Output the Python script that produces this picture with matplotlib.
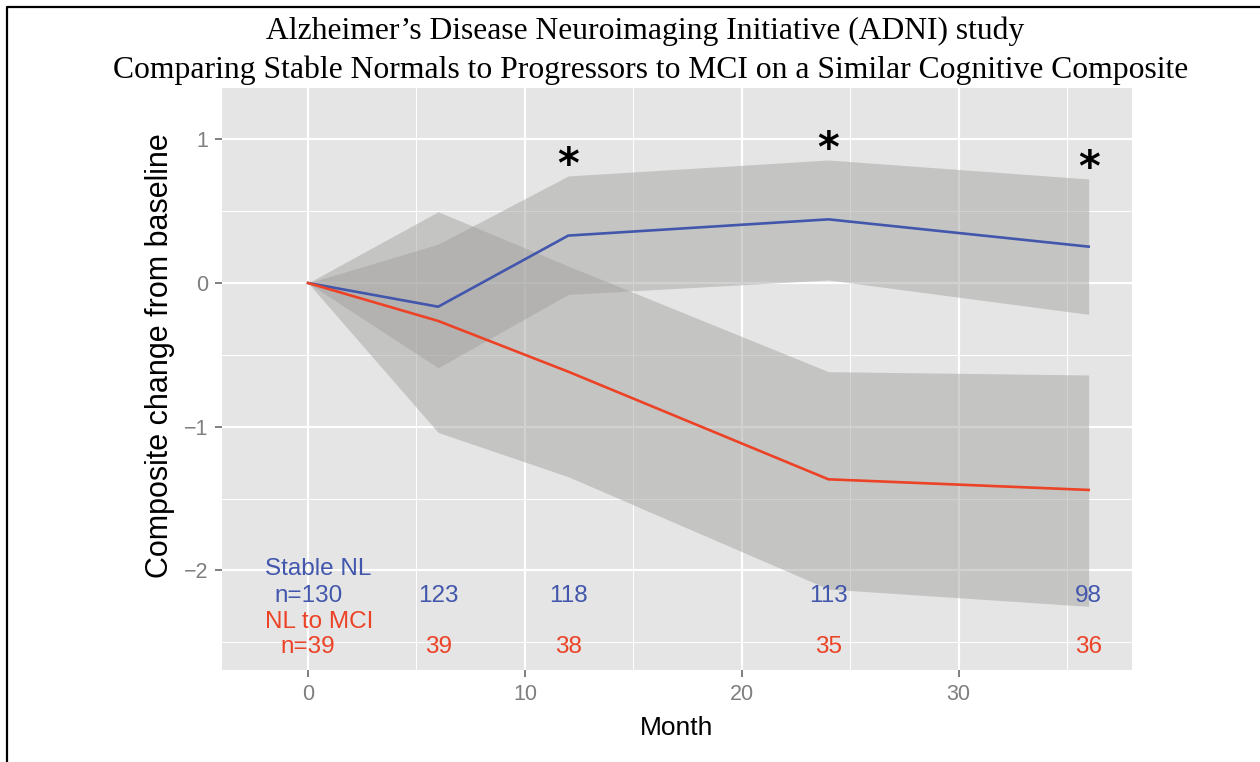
import matplotlib
matplotlib.use("Agg")
import matplotlib.pyplot as plt
from matplotlib.lines import Line2D
import numpy as np

# ---- data ----
months = [0, 6, 12, 24, 36]
stable_mean = [0.0, -0.165, 0.33, 0.443, 0.253]
stable_upper = [0.0, 0.27, 0.745, 0.856, 0.724]
stable_lower = [0.0, -0.59, -0.079, 0.021, -0.218]
prog_mean = [0.0, -0.264, -0.617, -1.366, -1.44]
prog_upper = [0.0, 0.496, 0.118, -0.617, -0.64]
prog_lower = [0.0, -1.04, -1.348, -2.13, -2.25]
n_stable = [130, 123, 118, 113, 98]
n_prog = [39, 39, 38, 35, 36]
signif_months = [12, 24, 36]
xticks = [0, 10, 20, 30]
yticks = [-2, -1, 0, 1]
title_lines = ["Alzheimer\u2019s Disease Neuroimaging Initiative (ADNI) study",
               "Comparing Stable Normals to Progressors to MCI on a Similar Cognitive Composite"]

BLUE = "#4257AC"
RED = "#EC4226"
PANEL = "#E5E5E5"
TICKGREY = "#7F7F7F"
NARROW = ["Liberation Sans", "DejaVu Sans"]
SANS = ["Liberation Sans", "DejaVu Sans"]

W, H = 1260, 762
fig = plt.figure(figsize=(W / 100, H / 100), dpi=100)
fig.patch.set_facecolor("white")

L, R, T, B = 222, 1132, 88, 670
ax = fig.add_axes([L / W, 1 - B / H, (R - L) / W, (B - T) / H])
ax.set_facecolor(PANEL)
ax.set_xlim(-3.97, 38.0)
ax.set_ylim(-2.693, 1.357)

# grid
ax.set_xticks(xticks)
ax.set_yticks(yticks)
ax.set_xticks([5, 15, 25, 35], minor=True)
ax.set_yticks([-2.5, -1.5, -0.5, 0.5], minor=True)
ax.grid(which="major", color="white", linewidth=1.6)
ax.grid(which="minor", color="white", linewidth=0.7)
ax.set_axisbelow(True)
for s in ax.spines.values():
    s.set_visible(False)
ax.tick_params(which="major", direction="out", length=5, width=1.4, color=TICKGREY,
               labelcolor=TICKGREY, labelsize=15.5, pad=5)
ax.tick_params(which="minor", length=0)
ax.set_xticklabels([str(v) for v in xticks], fontfamily=NARROW)
ax.set_yticklabels([str(v).replace("-", "\u2212") for v in yticks], fontfamily=NARROW)

# ribbons
ax.fill_between(months, stable_lower, stable_upper, color="#A1A09F", alpha=0.48, linewidth=0)
ax.fill_between(months, prog_lower, prog_upper, color="#A1A09F", alpha=0.48, linewidth=0)

# lines
ax.plot(months, stable_mean, color=BLUE, linewidth=1.9)
ax.plot(months, prog_mean, color=RED, linewidth=1.9)

# significance asterisks above the stable ribbon
for m in signif_months:
    up = stable_upper[months.index(m)]
    ax.text(m, up + 0.07, "*", ha="center", va="center", fontsize=30,
            fontweight="bold", color="black", fontfamily=["DejaVu Sans"])

# counts
CS = 17.5
ax.text(-2.0, -2.03, "Stable NL", color=BLUE, fontsize=CS, ha="left", va="baseline",
        fontfamily=NARROW)
ax.text(-2.0, -2.40, "NL to MCI", color=RED, fontsize=CS, ha="left", va="baseline",
        fontfamily=NARROW)
for i, m in enumerate(months):
    s1 = ("n=%d" % n_stable[i]) if i == 0 else str(n_stable[i])
    s2 = ("n=%d" % n_prog[i]) if i == 0 else str(n_prog[i])
    ax.text(m, -2.22, s1, color=BLUE, fontsize=CS, ha="center", va="baseline",
            fontfamily=NARROW)
    ax.text(m, -2.575, s2, color=RED, fontsize=CS, ha="center", va="baseline",
            fontfamily=NARROW)

ax.set_xlabel("Month", fontsize=19, color="black", fontfamily=SANS, labelpad=8)
ax.set_ylabel("Composite change from baseline", fontsize=22, color="black",
              fontfamily=SANS)
ax.yaxis.set_label_coords(-0.052, 0.54)

# title
fig.text(645 / W, 1 - 31 / H, title_lines[0], ha="center", va="center",
         fontsize=22.8, fontfamily=["Liberation Serif", "DejaVu Serif"])
fig.text(651 / W, 1 - 70 / H, title_lines[1], ha="center", va="center",
         fontsize=22.8, fontfamily=["Liberation Serif", "DejaVu Serif"])

# border lines (top and left)
fig.add_artist(Line2D([7 / W, 7 / W, 1.0], [0.0, 1 - 7 / H, 1 - 7 / H],
                      transform=fig.transFigure, color="black", linewidth=1.6))

fig.savefig("out.png", dpi=100)
